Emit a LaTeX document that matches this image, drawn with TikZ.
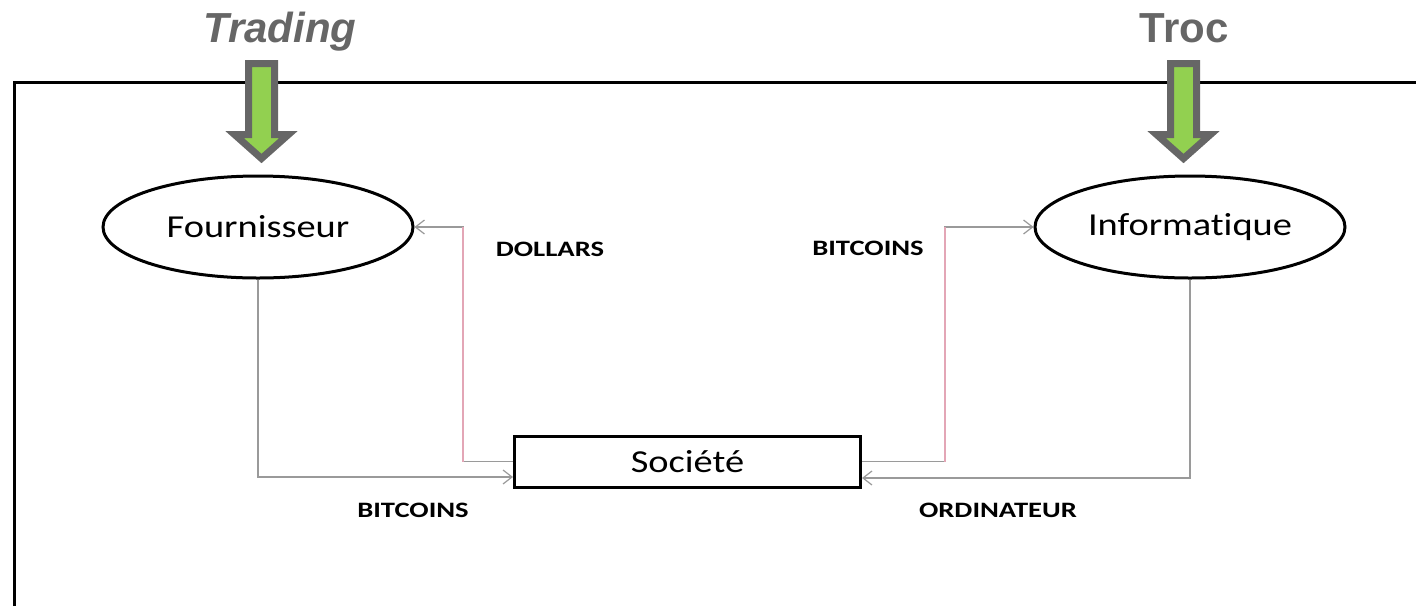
\documentclass[tikz,border=0pt]{standalone}
\usepackage{fontspec}
\usetikzlibrary{shapes.geometric,arrows.meta,calc}
\newfontfamily\nodefont[FakeStretch=1.2,Ligatures={NoCommon}]{Carlito}
\newfontfamily\labfont[FakeStretch=1.3,Ligatures={NoCommon}]{Carlito}
\newfontfamily\titlefont{Liberation Sans}
\definecolor{titlegray}{HTML}{666666}
\definecolor{agreen}{HTML}{92D050}
\definecolor{conngray}{HTML}{9A9A9A}
\definecolor{pinkline}{HTML}{E3A6B6}
\tikzset{
  ellnode/.style={ellipse,draw,line width=3pt,minimum width=310,minimum height=102,inner sep=0pt,font=\nodefont\fontsize{32}{38}\selectfont},
  boxnode/.style={rectangle,draw,line width=3pt,minimum width=346,minimum height=51,inner sep=0pt,font=\nodefont\fontsize{32}{38}\selectfont},
  lab/.style={font=\labfont\bfseries\fontsize{22}{26}\selectfont,inner sep=0pt},
  ttl/.style={font=\titlefont\bfseries\fontsize{42}{50}\selectfont,text=titlegray,inner sep=0pt,anchor=base},
  conn/.style={draw=conngray,line width=1.5pt,-{Straight Barb[length=9pt,width=14pt,line width=1.2pt]}},
  pinkseg/.style={draw=pinkline,line width=1.5pt},
  garrow/.pic={\draw[draw=titlegray,fill=agreen,line width=7pt,line join=miter]
     (-13,0) -- (13,0) -- (13,71) -- (27,71) -- (0,95) -- (-27,71) -- (-13,71) -- cycle;}
}
\begin{document}
\begin{tikzpicture}[x=1pt,y=-1pt]
\useasboundingbox[fill=white] (0,0) rectangle (1416,606);
% frame
\draw[line width=3pt] (14,606) -- (14,82) -- (1416,82);
% titles
\node[ttl,font=\titlefont\bfseries\itshape\fontsize{42}{50}\selectfont] (trading) at (280,42) {Trading};
\node[ttl] (troc) at (1184,42) {Troc};
\pic at (261.5,63.5) {garrow};
\pic at (1183.5,63.5) {garrow};
% nodes
\node[ellnode] (F) at (258,227) {Fournisseur};
\node[ellnode] (I) at (1190,227) {Informatique};
\node[boxnode] (S) at (687.5,461.5) {Société};
% helper coordinates
\coordinate (dx) at (463,0);
\coordinate (bx) at (945,0);
% connectors
\draw[conn] (F.south) |- ([yshift=-15.5pt]S.west);
\draw[conn] (S.west) -- (S.west -| dx) |- (F.east);
\draw[pinkseg] (S.west -| dx) -- (F.east -| dx);
\draw[conn] (S.east) -- (S.east -| bx) |- (I.west);
\draw[pinkseg] (S.east -| bx) -- (I.west -| bx);
\draw[conn] (I.south) |- ([yshift=-16.5pt]S.east);
% labels
\node[lab] (ldollars) at (550,249) {DOLLARS};
\node[lab] (lbit1) at (868,248) {BITCOINS};
\node[lab] (lbit2) at (413,510) {BITCOINS};
\node[lab] (lordi) at (998,510) {ORDINATEUR};
\end{tikzpicture}
\end{document}
